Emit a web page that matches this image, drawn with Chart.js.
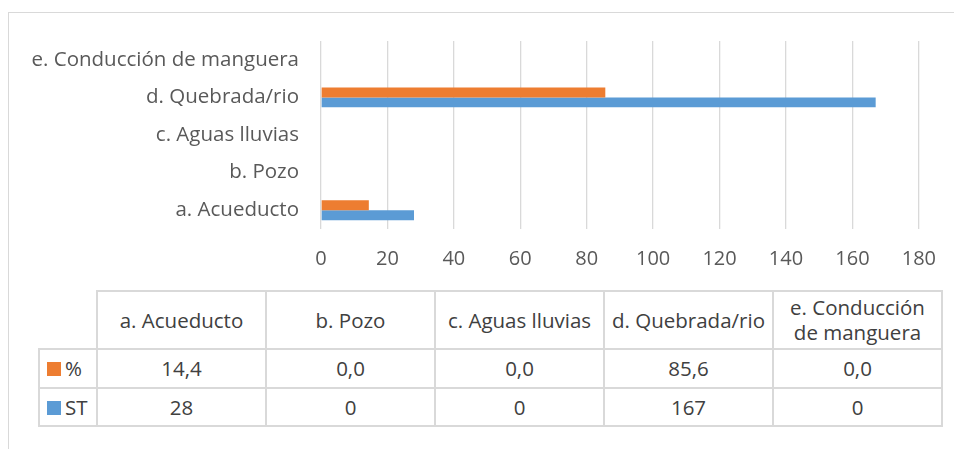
<!DOCTYPE html>
<html>
<head>
<meta charset="utf-8">
<script src="https://cdn.jsdelivr.net/npm/chart.js@4"></script>
<style>
  html, body { margin: 0; padding: 0; background: #fff; overflow: hidden; }
  body { width: 954px; height: 449px; position: relative; font-family: "Open Sans", sans-serif; }
  .frame { position: absolute; left: 8px; top: 12px; width: 980px; height: 480px; border: 1px solid #d9d9d9; box-sizing: border-box; }
  .chart-box { position: absolute; left: 0; top: 0; width: 954px; height: 280px; }
  table.data { position: absolute; left: 38px; top: 290px; border-collapse: collapse; table-layout: fixed; color: #404040; font-size: 20.5px; }
  table.data td { border: 2px solid #d9d9d9; text-align: center; padding: 0; line-height: 25px; }
  table.data td.corner { border-top: none; border-left: none; }
  table.data td.key { text-align: left; padding-left: 7px; white-space: nowrap; }
  .sw { display: inline-block; width: 14px; height: 14px; margin-right: 4px; vertical-align: 0px; }
</style>
</head>
<body>
<div class="frame"></div>
<div class="chart-box"><canvas id="chart"></canvas></div>
<table class="data" id="tbl"></table>
<script>
// === DATA ===
const categories = ['a. Acueducto', 'b. Pozo', 'c. Aguas lluvias', 'd. Quebrada/rio', 'e. Conducción de manguera'];
const pctValues = [14.4, 0, 0, 85.6, 0];
const stValues = [28, 0, 0, 167, 0];
const seriesNames = ['%', 'ST'];
const xTicks = [0, 20, 40, 60, 80, 100, 120, 140, 160, 180];

const colors = ['#ED7D31', '#5B9BD5'];
const textColor = '#595959';

// chart
new Chart(document.getElementById('chart'), {
  type: 'bar',
  data: {
    labels: categories,
    datasets: [
      { label: seriesNames[0], data: pctValues, backgroundColor: colors[0], categoryPercentage: 0.53, barPercentage: 1 },
      { label: seriesNames[1], data: stValues, backgroundColor: colors[1], categoryPercentage: 0.53, barPercentage: 1 }
    ]
  },
  options: {
    indexAxis: 'y',
    responsive: true,
    maintainAspectRatio: false,
    animation: false,
    layout: { padding: { top: 41, right: 34, left: 0, bottom: 0 } },
    plugins: { legend: { display: false }, tooltip: { enabled: false } },
    scales: {
      x: {
        min: xTicks[0], max: xTicks[xTicks.length - 1],
        afterBuildTicks: s => { s.ticks = xTicks.map(v => ({ value: v })); },
        afterFit: s => { s.height = 51; },
        ticks: { color: textColor, font: { family: 'Open Sans', size: 20 }, padding: 18, maxRotation: 0 },
        grid: { color: '#d9d9d9', lineWidth: 1.3, drawTicks: false },
        border: { display: false }
      },
      y: {
        reverse: true,
        afterFit: s => { s.width = 321; },
        ticks: { color: textColor, font: { family: 'Open Sans', size: 20.5 }, padding: 22 },
        grid: { display: false, drawTicks: false },
        border: { display: false }
      }
    }
  }
});

// data table under the chart (keep "de manguera" together like the original wrap)
const tbl = document.getElementById('tbl');
let html = '<colgroup><col style="width:58px">' + categories.map(() => '<col style="width:169px">').join('') + '</colgroup>';
html += '<tr style="height:58px"><td class="corner"></td>' + categories.map(c => `<td>${c.replace(' de ', ' de&nbsp;')}</td>`).join('') + '</tr>';
html += `<tr style="height:39px"><td class="key"><span class="sw" style="background:${colors[0]}"></span>${seriesNames[0]}</td>` +
  pctValues.map(v => `<td>${v.toFixed(1).replace('.', ',')}</td>`).join('') + '</tr>';
html += `<tr style="height:38px"><td class="key"><span class="sw" style="background:${colors[1]}"></span>${seriesNames[1]}</td>` +
  stValues.map(v => `<td>${v}</td>`).join('') + '</tr>';
tbl.innerHTML = html;
</script>
</body>
</html>
